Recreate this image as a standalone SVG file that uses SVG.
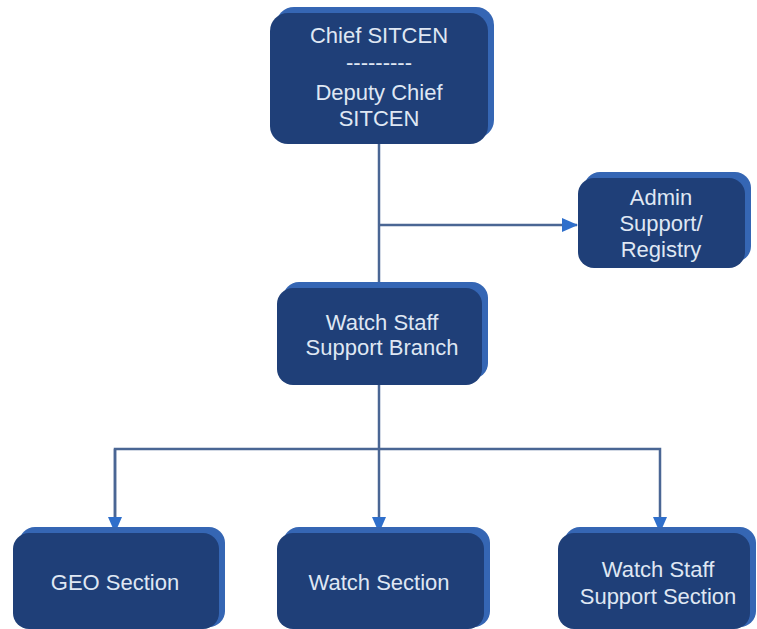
<svg xmlns="http://www.w3.org/2000/svg" width="757" height="629" viewBox="0 0 757 629">
<style>
.back{fill:#3566b4}
.front{fill:#1f3f78}
.t{font-family:"Liberation Sans",Arial,sans-serif;font-size:22px;fill:#dfe7f3;text-anchor:middle}
.c{stroke:#4a6694;stroke-width:2.5;fill:none}
</style>
<defs>
<marker id="ah" markerUnits="userSpaceOnUse" markerWidth="16" markerHeight="14" refX="15" refY="7" orient="auto">
<path d="M0,0 L16,7 L0,14 Z" fill="#2f6fcb"/>
</marker>
</defs>
<rect width="757" height="629" fill="#ffffff"/>
<g id="connectors">
<path class="c" d="M379,144 V288"/>
<path class="c" d="M379,225 H577" marker-end="url(#ah)"/>
<path class="c" d="M379,385 V532" marker-end="url(#ah)"/>
<path class="c" d="M115,532 V449 H660 V532" marker-end="url(#ah)"/>
<path class="c" d="M115,449 V532" marker-end="url(#ah)"/>
</g>
<g id="chief">
<rect class="back" x="276" y="7" width="218" height="131" rx="18"/>
<rect class="front" x="270" y="13" width="218" height="131" rx="18"/>
<text class="t" x="379" y="43">Chief SITCEN</text>
<text class="t" x="379" y="70" font-size="14">---------</text>
<text class="t" x="379" y="100">Deputy Chief</text>
<text class="t" x="379" y="126">SITCEN</text>
</g>
<g id="admin">
<rect class="back" x="584" y="172" width="167" height="90" rx="16"/>
<rect class="front" x="578" y="178" width="167" height="90" rx="16"/>
<text class="t" x="661" y="205">Admin</text>
<text class="t" x="661" y="231">Support/</text>
<text class="t" x="661" y="257">Registry</text>
</g>
<g id="branch">
<rect class="back" x="283" y="282" width="205" height="97" rx="16"/>
<rect class="front" x="277" y="288" width="205" height="97" rx="16"/>
<text class="t" x="382" y="330">Watch Staff</text>
<text class="t" x="382" y="355">Support Branch</text>
</g>
<g id="geo">
<rect class="back" x="19" y="527" width="206" height="100" rx="16"/>
<rect class="front" x="13" y="533" width="206" height="96" rx="16"/>
<text class="t" x="115" y="590">GEO Section</text>
</g>
<g id="watch">
<rect class="back" x="283" y="527" width="207" height="100" rx="16"/>
<rect class="front" x="277" y="533" width="207" height="96" rx="16"/>
<text class="t" x="379" y="590">Watch Section</text>
</g>
<g id="wsss">
<rect class="back" x="564" y="527" width="192" height="100" rx="16"/>
<rect class="front" x="558" y="533" width="192" height="96" rx="16"/>
<text class="t" x="658" y="577">Watch Staff</text>
<text class="t" x="658" y="604">Support Section</text>
</g>
</svg>
